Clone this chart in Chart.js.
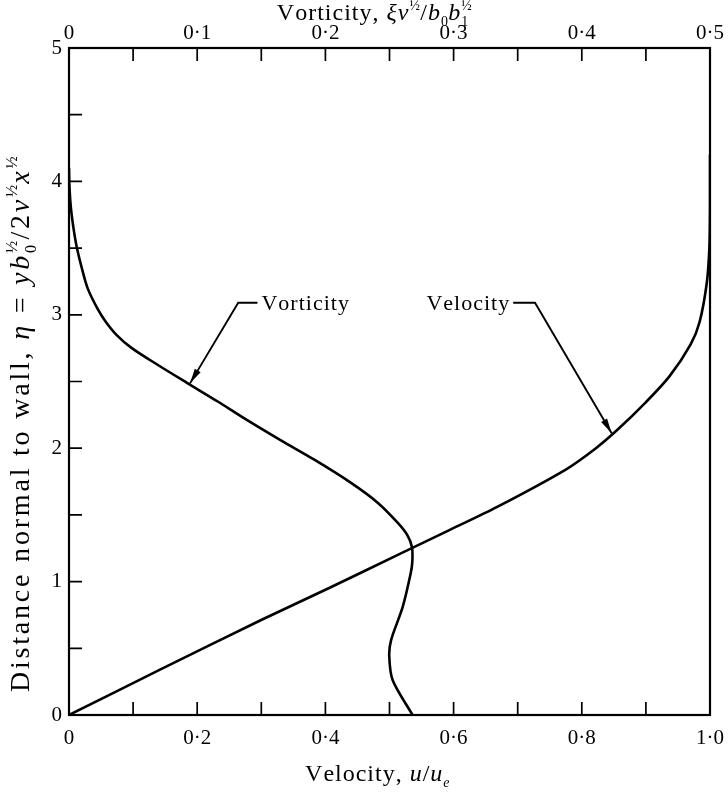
<!DOCTYPE html>
<html lang="en">
<head>
<meta charset="UTF-8" />
<title>Velocity and vorticity profiles</title>
<script src="https://cdn.jsdelivr.net/npm/chart.js"></script>
<style>
  html, body { margin: 0; padding: 0; background: #fff; }
</style>
</head>
<body>
<canvas id="grafico" width="728" height="794"></canvas>
<script>
// velocity profile: eta vs u/ue
const velocidadeEta = [0, 0.34, 0.71, 0.95, 1.21, 1.39, 1.56, 1.84, 2.0, 2.14, 2.34, 2.54, 2.78, 2.95, 3.24, 3.5, 3.8, 4.2];
const velocidadeU   = [0, 0.142, 0.299, 0.405, 0.517, 0.595, 0.668, 0.775, 0.822, 0.856, 0.899, 0.937, 0.970, 0.984, 0.995, 0.999, 1.0, 1.0];

// vorticity profile: eta vs xi (top axis)
const vorticidadeEta = [4.1, 3.95, 3.8, 3.65, 3.5, 3.35, 3.2, 3.05, 2.95, 2.85, 2.75, 2.62, 2.49, 2.35, 2.21, 2.06, 1.91, 1.74, 1.59, 1.44, 1.35, 1.26, 1.15, 1.06, 0.81, 0.56, 0.44, 0.26, 0];
const vorticidadeXi  = [0, 0.0004, 0.0015, 0.0035, 0.0062, 0.0100, 0.0145, 0.022, 0.0285, 0.037, 0.049, 0.070, 0.092, 0.116, 0.139, 0.165, 0.192, 0.220, 0.241, 0.2565, 0.2638, 0.2675, 0.2678, 0.2665, 0.2603, 0.2512, 0.2498, 0.2525, 0.268];

const rotulosVelocidade  = ['0', '0·2', '0·4', '0·6', '0·8', '1·0'];
const rotulosVorticidade = ['0', '0·1', '0·2', '0·3', '0·4', '0·5'];
const rotulosEta         = ['0', '1', '2', '3', '4', '5'];

// labels with leader arrows, in velocity / eta units
const anotacoes = [
  { texto: 'Vorticity', lado: 'esq', cotovelo: [0.264, 3.09], fimTraco: 0.294, ponta: [0.1888, 2.486] },
  { texto: 'Velocity',  lado: 'dir', cotovelo: [0.727, 3.09], fimTraco: 0.693, ponta: [0.8466, 2.112] }
];

const FONTE = '"Liberation Serif", "DejaVu Serif", serif';

function montarRico(ctx, partes, base, esp) {
  let x = 0, ultimoX = 0;
  const itens = [];
  partes.forEach(function (p) {
    const tam = p.s ? base * 0.58 : base;
    const font = (p.i ? 'italic ' : '') + tam + 'px ' + FONTE;
    ctx.font = font;
    const letras = [];
    let w = 0;
    for (const c of p.t) {
      letras.push({ c: c, dx: w });
      w += ctx.measureText(c).width + (p.s ? esp * 0.4 : esp);
    }
    let px;
    if (p.over) { px = ultimoX; x = Math.max(x, ultimoX + w); }
    else { px = x; x += w; }
    const dy = p.s === 'sub' ? base * 0.25 : (p.s === 'sup' ? -base * 0.42 : 0);
    itens.push({ letras: letras, font: font, px: px, dy: dy });
    ultimoX = px;
  });
  return { itens: itens, largura: x - esp };
}

function desenharRico(ctx, partes, base, esp, cx, cy, angulo) {
  const r = montarRico(ctx, partes, base, esp);
  ctx.save();
  ctx.translate(cx, cy);
  ctx.rotate(angulo || 0);
  ctx.fillStyle = '#000';
  ctx.textBaseline = 'alphabetic';
  ctx.textAlign = 'left';
  r.itens.forEach(function (it) {
    ctx.font = it.font;
    it.letras.forEach(function (l) {
      ctx.fillText(l.c, it.px + l.dx - r.largura / 2, it.dy);
    });
  });
  ctx.restore();
}

const tituloTopo = [
  { t: 'Vorticity, ' }, { t: 'ξν', i: 1 }, { t: '½', s: 'sup' }, { t: '/' },
  { t: 'b', i: 1 }, { t: '0', s: 'sub' }, { t: 'b', i: 1 }, { t: '1', s: 'sub' }, { t: '½', s: 'sup', over: 1 }
];
const tituloBase = [
  { t: 'Velocity, ' }, { t: 'u', i: 1 }, { t: '/' }, { t: 'u', i: 1 }, { t: 'e', i: 1, s: 'sub' }
];
const tituloEsq = [
  { t: 'Distance normal to wall, ' }, { t: 'η', i: 1 }, { t: ' = ' }, { t: 'y', i: 1 },
  { t: 'b', i: 1 }, { t: '0', s: 'sub' }, { t: '½', s: 'sup', over: 1 }, { t: '/2' },
  { t: 'ν', i: 1 }, { t: '½', s: 'sup' }, { t: 'x', i: 1 }, { t: '½', s: 'sup' }
];

const molduraPlugin = {
  id: 'moldura',
  afterDatasetsDraw: function (chart) {
    const ctx = chart.ctx;
    const a = chart.chartArea;
    const sx = chart.scales.x, sx2 = chart.scales.x2, sy = chart.scales.y;
    const tam = 13;
    ctx.save();
    ctx.strokeStyle = '#000';
    ctx.lineWidth = 2.2;
    ctx.strokeRect(a.left, a.top, a.right - a.left, a.bottom - a.top);
    ctx.lineWidth = 1.7;
    ctx.beginPath();
    sx.ticks.forEach(function (t) {
      const p = sx.getPixelForValue(t.value);
      ctx.moveTo(p, a.bottom); ctx.lineTo(p, a.bottom - tam);
    });
    sx2.ticks.forEach(function (t) {
      const p = sx2.getPixelForValue(t.value);
      ctx.moveTo(p, a.top); ctx.lineTo(p, a.top + tam);
    });
    sy.ticks.forEach(function (t) {
      const p = sy.getPixelForValue(t.value);
      ctx.moveTo(a.left, p); ctx.lineTo(a.left + tam, p);
    });
    ctx.stroke();

    // leader lines and arrows
    anotacoes.forEach(function (n) {
      const ex = sx.getPixelForValue(n.cotovelo[0]), ey = sy.getPixelForValue(n.cotovelo[1]);
      const fx = sx.getPixelForValue(n.fimTraco);
      const tx = sx.getPixelForValue(n.ponta[0]), ty = sy.getPixelForValue(n.ponta[1]);
      ctx.lineWidth = 1.9;
      ctx.beginPath();
      ctx.moveTo(fx, ey); ctx.lineTo(ex, ey); ctx.lineTo(tx, ty);
      ctx.stroke();
      const ang = Math.atan2(ty - ey, tx - ex);
      const L = 15, W = 3.4;
      ctx.beginPath();
      ctx.moveTo(tx, ty);
      ctx.lineTo(tx - L * Math.cos(ang) + W * Math.sin(ang), ty - L * Math.sin(ang) - W * Math.cos(ang));
      ctx.lineTo(tx - L * Math.cos(ang) - W * Math.sin(ang), ty - L * Math.sin(ang) + W * Math.cos(ang));
      ctx.closePath();
      ctx.fillStyle = '#000';
      ctx.fill();
      const r = montarRico(ctx, [{ t: n.texto }], 22, 1);
      const cx = n.lado === 'esq' ? fx + 4 + r.largura / 2 : fx - 4 - r.largura / 2;
      desenharRico(ctx, [{ t: n.texto }], 22, 1, cx, ey + 7, 0);
    });

    desenharRico(ctx, tituloTopo, 24, 1, 374, 20, 0);
    desenharRico(ctx, tituloBase, 24, 1, 377, 781, 0);
    desenharRico(ctx, tituloEsq, 28, 2.8, 29, 425, -Math.PI / 2);
    ctx.restore();
  }
};

function pontos(xs, ys) {
  const out = [];
  for (let i = 0; i < xs.length; i++) out.push({ x: xs[i], y: ys[i] });
  return out;
}

const fonteTicks = { family: FONTE, size: 21 };
const semGrade = { display: false, drawTicks: false };

new Chart(document.getElementById('grafico'), {
  type: 'scatter',
  data: {
    datasets: [{
      label: 'Velocity',
      data: pontos(velocidadeU, velocidadeEta),
      xAxisID: 'x', yAxisID: 'y',
      showLine: true, borderColor: '#000', borderWidth: 2.6,
      pointRadius: 0, tension: 0.3, fill: false
    }, {
      label: 'Vorticity',
      data: pontos(vorticidadeXi, vorticidadeEta),
      xAxisID: 'x2', yAxisID: 'y',
      showLine: true, borderColor: '#000', borderWidth: 2.6,
      pointRadius: 0, tension: 0.3, fill: false
    }]
  },
  options: {
    responsive: false,
    animation: false,
    layout: { padding: { left: 0, right: 18, top: 0, bottom: 0 } },
    plugins: { legend: { display: false }, tooltip: { enabled: false } },
    scales: {
      x: {
        type: 'linear', position: 'bottom', min: 0, max: 1,
        grid: semGrade, border: { display: false },
        ticks: {
          stepSize: 0.1, autoSkip: false, maxRotation: 0, padding: 11, color: '#000', font: fonteTicks,
          callback: function (v) { const k = Math.round(v * 10); return k % 2 === 0 ? rotulosVelocidade[k / 2] : ''; }
        },
        afterFit: function (s) { s.height = 79; s.paddingLeft = 0; s.paddingRight = 0; }
      },
      x2: {
        type: 'linear', position: 'top', min: 0, max: 0.5,
        grid: semGrade, border: { display: false },
        ticks: {
          stepSize: 0.05, autoSkip: false, maxRotation: 0, padding: 2, color: '#000', font: fonteTicks,
          callback: function (v) { const k = Math.round(v * 20); return k % 2 === 0 ? rotulosVorticidade[k / 2] : ''; }
        },
        afterFit: function (s) { s.height = 48; s.paddingLeft = 0; s.paddingRight = 0; }
      },
      y: {
        type: 'linear', position: 'left', min: 0, max: 5,
        grid: semGrade, border: { display: false },
        ticks: {
          stepSize: 0.5, autoSkip: false, padding: 7, color: '#000', font: fonteTicks,
          callback: function (v) { const k = Math.round(v * 2); return k % 2 === 0 ? rotulosEta[k / 2] : ''; }
        },
        afterFit: function (s) { s.width = 69; s.paddingTop = 0; s.paddingBottom = 0; }
      }
    }
  },
  plugins: [molduraPlugin]
});
</script>
</body>
</html>
